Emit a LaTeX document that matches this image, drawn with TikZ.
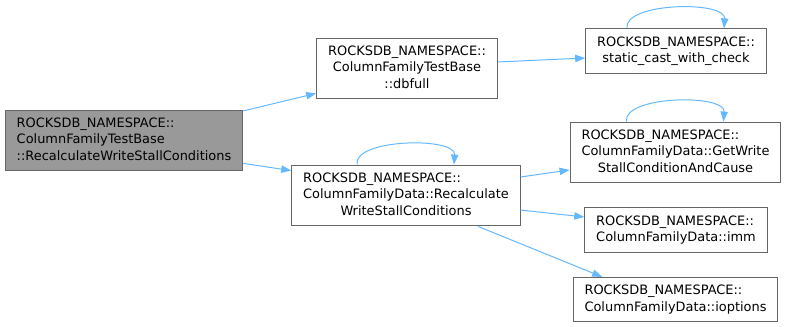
\documentclass[tikz,border=0pt]{standalone}
\usepackage{fontspec}
\setmainfont{DejaVu Sans}
\usepackage{tikz}
\usetikzlibrary{arrows.meta}
\definecolor{edgeblue}{HTML}{63B8FF}
\definecolor{boxline}{HTML}{666666}
\definecolor{rootfill}{HTML}{999999}
\newcommand{\ns}{ROCKSDB\_NAMESPACE::}
\newcommand{\fnbox}[2][l]{\begin{tabular}{@{}#1@{}}#2\end{tabular}}
\newcommand{\ctrline}[1]{\multicolumn{1}{@{}c@{}}{#1}}
\tikzset{
  fn/.style={draw=boxline,fill=white,line width=0.75pt,inner xsep=8.6pt,inner ysep=4.2pt,
    font=\fontsize{9.7}{12.4}\selectfont},
  rootfn/.style={fn,fill=rootfill},
  call/.style={draw=edgeblue,line width=0.75pt,-{Triangle[length=7.5pt,width=5.5pt]}}
}

\begin{document}
\begin{tikzpicture}[x=0.75pt,y=-0.75pt]
  \useasboundingbox (0,0) rectangle (788,327);

  \node[rootfn] (root) at (124,140.5) {\fnbox{\ns\\ColumnFamilyTestBase\\::RecalculateWriteStallConditions}};
  \node[fn] (dbfull) at (407,68.5) {\fnbox[c]{\ns\\ColumnFamilyTestBase\\::dbfull}};
  \node[fn] (recalc) at (406,195.5) {\fnbox{\ns\\ColumnFamilyData::Recalculate\\\ctrline{WriteStallConditions}}};
  \node[fn] (cast) at (676,51) {\fnbox[c]{\ns\\static\_cast\_with\_check}};
  \node[fn] (getwrite) at (675.5,152.5) {\fnbox{\ns\\ColumnFamilyData::GetWrite\\\ctrline{StallConditionAndCause}}};
  \node[fn] (imm) at (676,230) {\fnbox{\ns\\ColumnFamilyData::imm}};
  \node[fn] (iopts) at (675.5,299.5) {\fnbox{\ns\\ColumnFamilyData::ioptions}};

  % calls
  \draw[call] ([yshift=-1pt]root.north east) -- ([yshift=4.5pt]dbfull.south west);
  \draw[call] ([yshift=6pt]root.south east) -- ([yshift=-4.5pt]recalc.north west);
  \draw[call] ([yshift=4.9pt]dbfull.east) -- ([yshift=-5.25pt]cast.west);
  \draw[call] ([yshift=13.9pt]recalc.east) -- ([yshift=-13.1pt]getwrite.west);
  \draw[call] ([yshift=-10.9pt]recalc.east) -- ([yshift=9.75pt]imm.west);
  \draw[call] ([xshift=54pt]recalc.south) -- ([xshift=-55pt]iopts.north);

  % recursive calls
  \foreach \n in {recalc,cast,getwrite}
    \draw[call] ([xshift=-36.75pt]\n.north) .. controls +(-4,-26) and +(2,-28) .. ([xshift=36pt]\n.north);
\end{tikzpicture}
\end{document}
